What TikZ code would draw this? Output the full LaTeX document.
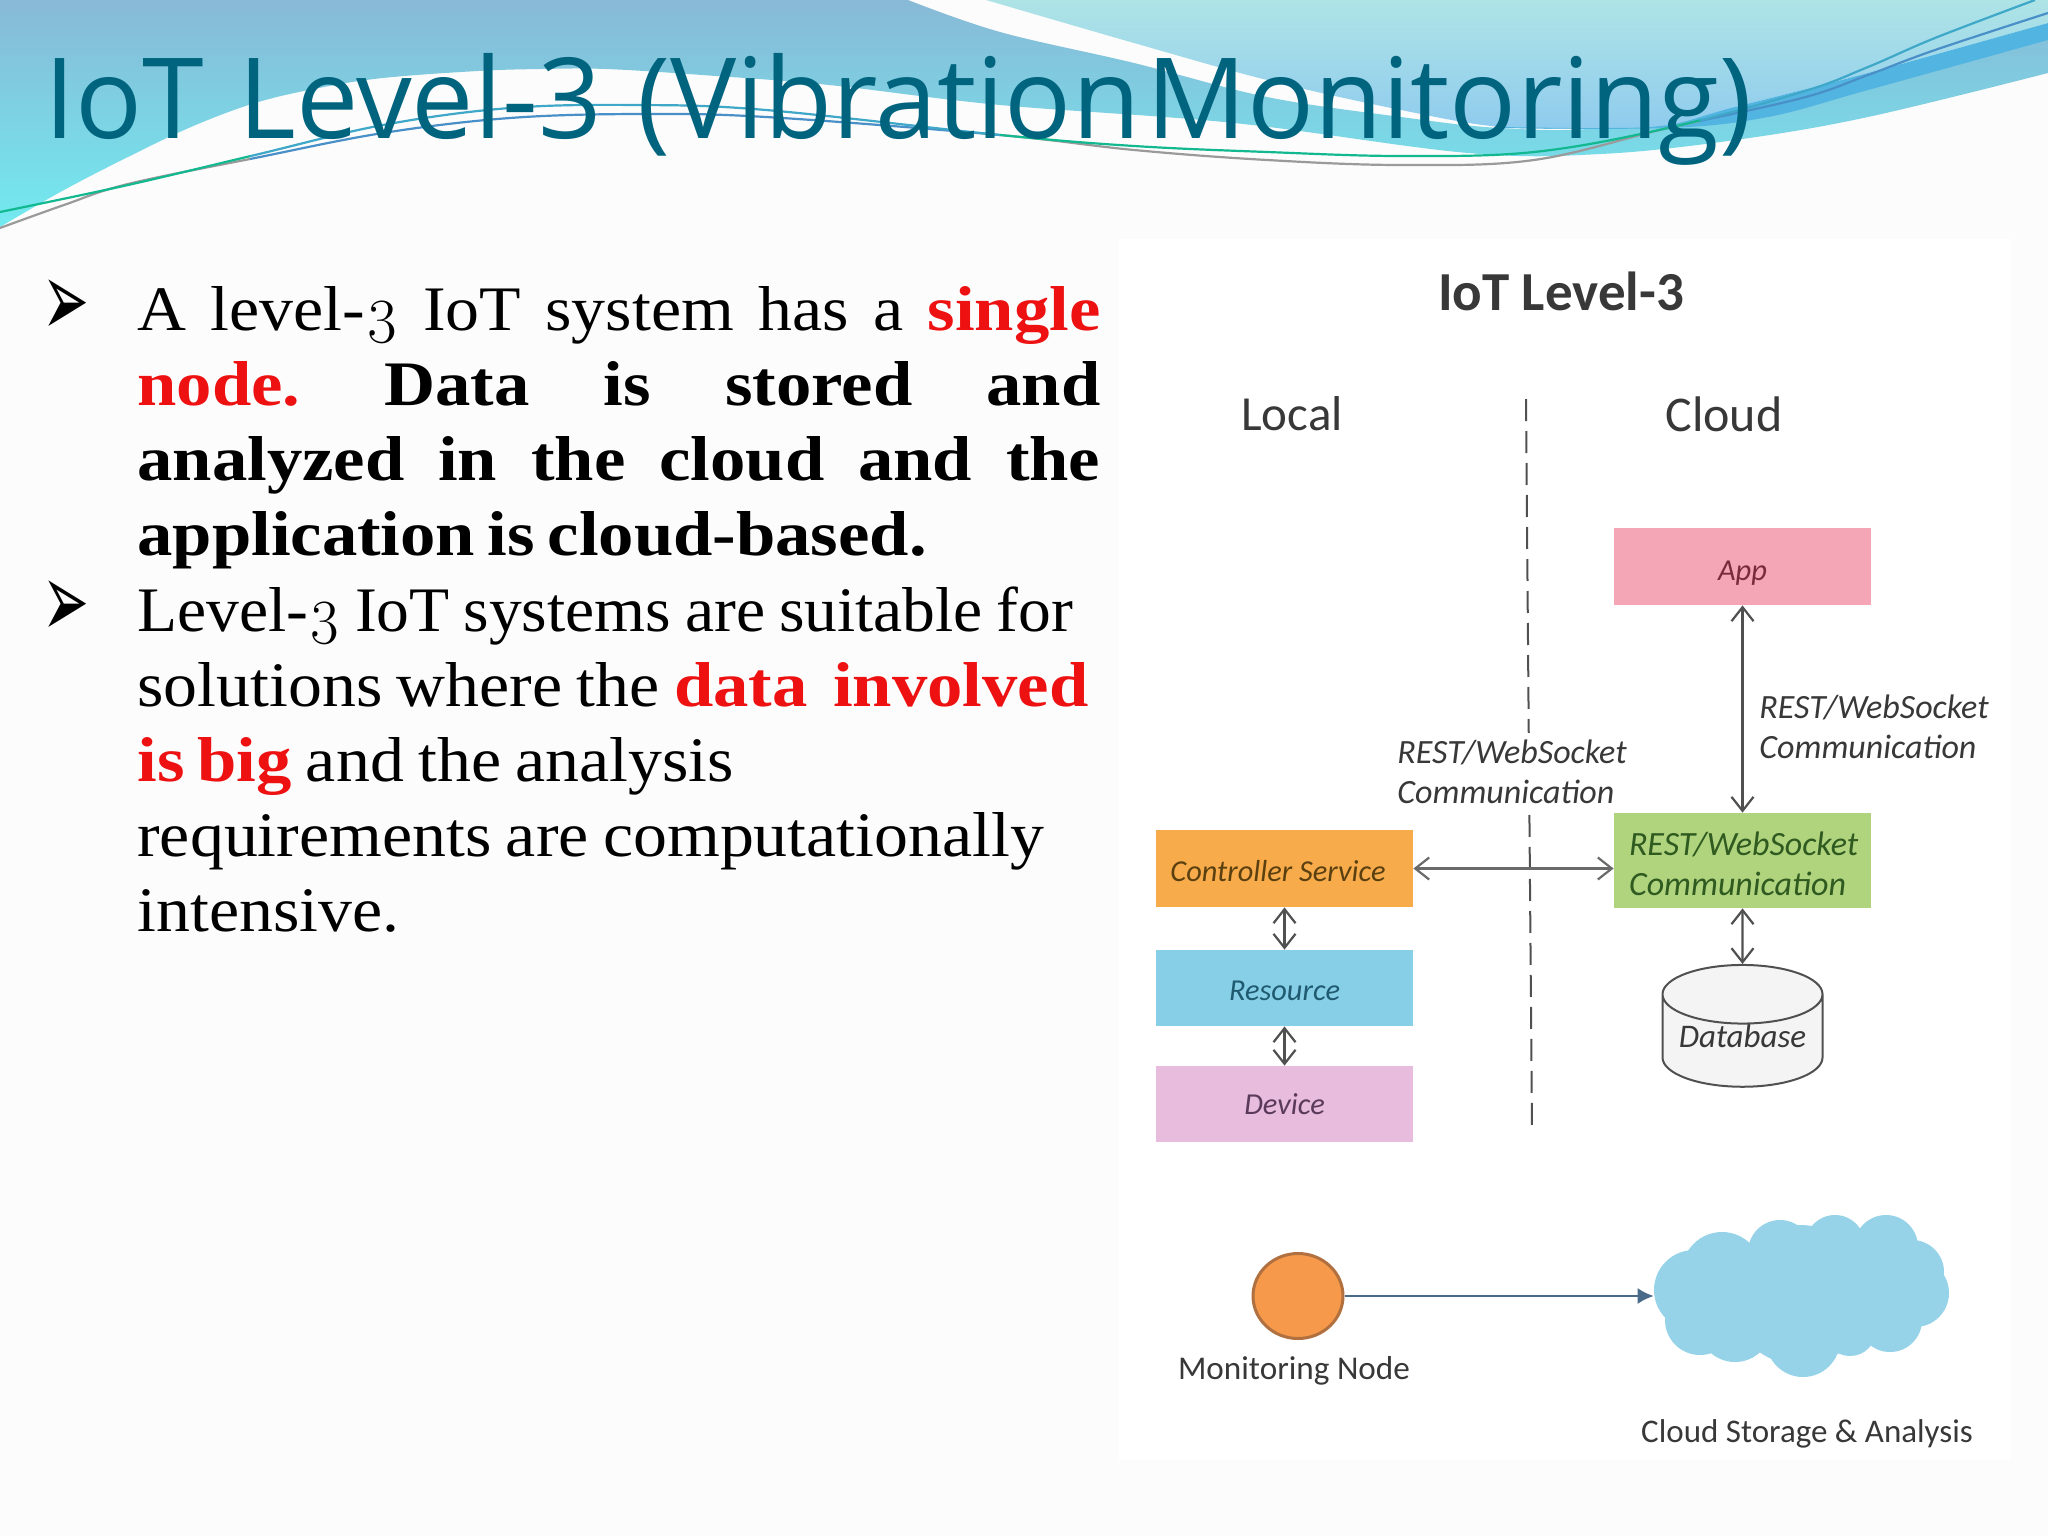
\documentclass[tikz,border=0pt]{standalone}
\usepackage{graphicx}
\usepackage{fontspec}
\usetikzlibrary{arrows.meta,shapes.geometric,calc}
\setmainfont[FakeStretch=1.07,WordSpace=0.85,BoldFeatures={FakeStretch=1.115,WordSpace=0.72}]{Liberation Serif}
\newfontfamily\lmo[Numbers=OldStyle]{Latin Modern Roman}
\newfontfamily\ttl{Open Sans}
\newfontfamily\dgm{Carlito}
\newfontfamily\bul{DejaVu Sans}
\definecolor{titlec}{HTML}{00647F}
\definecolor{redt}{HTML}{EE1111}
\definecolor{lnc}{HTML}{505050}
\definecolor{HeadTop}{HTML}{88B9D6}
\definecolor{HeadBot}{HTML}{72EAF0}
\definecolor{PaleTop}{HTML}{AEE4E6}
\definecolor{PaleBot}{HTML}{8FCBEE}
\definecolor{BandC}{HTML}{52B4E0}
\definecolor{CvGreen}{HTML}{12B890}
\definecolor{CvGrey}{HTML}{9A9A9A}
\definecolor{CvTeal}{HTML}{3FA8C8}
\definecolor{CvBlue}{HTML}{4A90C8}
\definecolor{AppC}{HTML}{F5A6B6}
\definecolor{AppT}{HTML}{7A2A3A}
\definecolor{GreenC}{HTML}{B0D37E}
\definecolor{GreenT}{HTML}{2F5A20}
\definecolor{CtrlC}{HTML}{F7AB4A}
\definecolor{CtrlT}{HTML}{5A4010}
\definecolor{ResC}{HTML}{86CFE6}
\definecolor{ResT}{HTML}{205A70}
\definecolor{DevC}{HTML}{E8BCDC}
\definecolor{DevT}{HTML}{5A3A5A}
\definecolor{DbC}{HTML}{F4F4F4}
\definecolor{NodeC}{HTML}{F7994A}
\definecolor{NodeB}{HTML}{B07040}
\definecolor{CloudC}{HTML}{96D3E8}
\definecolor{ArrC}{HTML}{4A6A8A}
\newcommand{\lin}[1]{\makebox[481.5pt][s]{#1}}
\newcommand{\redb}[1]{\textcolor{redt}{\textbf{#1}}}
\newcommand{\curveA}{plot[smooth,tension=0.6] coordinates {(0,212)(128,185)(255,155)(383,125)(510,108)(638,105)(766,110)(1000,135)(1134,146)(1267,152)(1401,156)(1534,152)(1668,128)(1802,92)(1868,67)(1935,38)(2035,0)}}
\newcommand{\curveB}{plot[smooth,tension=0.6] coordinates {(0,228)(64,205)(128,184)(255,158)(383,133)(510,118)(638,114)(766,117)(1000,135)(1134,150)(1267,160)(1401,165)(1534,160)(1668,128)(1802,98)(1868,75)(1935,50)(2048,13)}}
\tikzset{
  box/.style={rectangle,inner sep=0pt,font=\dgm\itshape\fontsize{15.2}{17}\selectfont,align=center},
  lbl/.style={inner sep=0pt,font=\dgm\itshape\fontsize{17}{20.3}\selectfont,text=black!78,align=left},
  plain/.style={inner sep=0pt,text=black!78,font=\dgm},
  dbl/.style={draw=lnc,line width=1.1pt,{Straight Barb[length=7pt,width=11pt]}-{Straight Barb[length=7pt,width=11pt]}},
  para/.style={inner sep=0pt,anchor=north west,align=left,font=\frenchspacing\fontsize{31.7}{37.5}\selectfont},
  bulletn/.style={inner sep=0pt,font=\bul\fontsize{28}{30}\selectfont}
}
\begin{document}
\begin{tikzpicture}[x=0.5pt,y=-0.5pt]
\useasboundingbox (0,0) rectangle (2048,1536);
\fill[white!99!black] (0,0) rectangle (2048,1536);
% header waves
\shade[top color=HeadTop,bottom color=HeadBot] plot[smooth,tension=0.6] coordinates {(908,0)(1000,32)(1134,63)(1267,97)(1401,117)(1500,128)(1601,128)(1735,107)(1868,80)(2048,30)} -- (2048,73) -- plot[smooth,tension=0.6] coordinates {(2048,73)(1868,117)(1735,140)(1601,154)(1468,153)(1234,123)(1000,105)(829,85)(702,75)(606,69)(542,69)(478,71)(383,78)(319,88)(255,103)(191,127)(128,157)(64,190)(0,227)} -- (0,0) -- cycle;
\shade[top color=PaleTop,bottom color=PaleBot] plot[smooth,tension=0.6] coordinates {(986,0)(1134,43)(1267,80)(1401,110)(1501,127)(1601,128)(1668,125)(1735,107)(1868,73)(2048,23)} -- (2048,0) -- cycle;
\fill[BandC] plot[smooth,tension=0.6] coordinates {(1500,127)(1601,128)(1668,125)(1735,107)(1868,73)(2048,23)} -- (2048,40) -- plot[smooth,tension=0.6] coordinates {(2048,40)(1868,90)(1768,117)(1668,128)(1500,128)} -- cycle;
% curves
\foreach \xa/\xb/\ca/\cb in {0/250/CvGreen/CvGrey,250/1000/CvTeal/CvBlue,1000/1700/CvGreen/CvGrey,1700/2048/CvTeal/CvBlue}{
  \begin{scope}
    \clip (\xa,0) rectangle (\xb,260);
    \draw[\cb,line width=1.1pt] \curveB;
    \draw[\ca,line width=1.1pt] \curveA;
  \end{scope}
}
% title
\node[inner sep=0pt,anchor=base west,text=titlec] (title) at (44,138)
  {\resizebox{854pt}{\height}{\ttl\fontsize{56}{60}\selectfont IoT\hspace{0.05em} Level-3\hspace{0.06em} (Vibration\hspace{0.06em}Monitoring)}};
% body text
\node[bulletn] (b1) at (66,308) {\scalebox{1}[1.9]{➢}};
\node[para] (p1) at (137,286) {\lin{A level-{\lmo 3} IoT system has a \redb{single}}\\
\lin{\redb{node.} \textbf{Data is stored and}}\\
\lin{\textbf{analyzed in the cloud and the}}\\
\textbf{application is cloud-based.}};
\node[bulletn] (b2) at (66,609) {\scalebox{1}[1.9]{➢}};
\node[para] (p2) at (137,586) {\resizebox{468pt}{\height}{Level-{\lmo 3} IoT systems are suitable for}\\
solutions where the \redb{data\ \ involved}\\
\redb{is big} and the analysis\\
requirements are computationally\\
intensive.};
% diagram panel
\fill[white] (1119,239) rectangle (2011,1460);
\coordinate (dashtop) at (1526,399);
\coordinate (dashbot) at (1532,1132);
\draw[lnc,line width=1pt,dash pattern=on 11pt off 5pt] (dashtop) -- (dashbot);
\node[plain,font=\dgm\bfseries\fontsize{27.5}{30}\selectfont] (dtitle) at (1561,291) {IoT Level-3};
\node[plain,font=\dgm\fontsize{24.5}{27}\selectfont] (local) at (1292,414) {Local};
\node[plain,font=\dgm\fontsize{25}{27}\selectfont] (cloudt) at (1724,414) {Cloud};
\node[box,fill=AppC,text=AppT,minimum width=128.5pt,minimum height=38.5pt] (app) at (1742.5,566.5) {\rule{0pt}{16pt}App};
\node[box,fill=GreenC,text=GreenT,minimum width=128.5pt,minimum height=47.5pt,text width=113.5pt,align=left,font=\dgm\itshape\fontsize{17}{20.3}\selectfont] (rest) at (1742.5,860.5) {\rule{0pt}{15pt}REST/WebSocket\\Communication};
\node[box,fill=CtrlC,text=CtrlT,minimum width=128.5pt,minimum height=38.5pt] (ctrl) at (1284.5,868.5) {\rule{0pt}{13pt}Controller Service\hspace{6.5pt}};
\node[box,fill=ResC,text=ResT,minimum width=128.5pt,minimum height=38pt] (res) at (1284.5,988) {\rule{0pt}{13pt}Resource};
\node[box,fill=DevC,text=DevT,minimum width=128.5pt,minimum height=38pt] (dev) at (1284.5,1104) {Device};
\node[cylinder,shape border rotate=90,aspect=0.46,draw=lnc,line width=1pt,fill=DbC,inner sep=0pt,minimum width=80pt,minimum height=53.5pt,font=\dgm\itshape\fontsize{16.5}{18}\selectfont,text=black!78] (db) at (1742.5,1041) {\rule[-5pt]{0pt}{5pt}Database\hspace{4pt}};
\node[lbl,anchor=north west] (lr) at (1759,694) {REST/WebSocket\\Communication};
\node[lbl,anchor=north west,fill=white,inner xsep=0pt,inner ysep=3pt] (ll) at (1397,733) {REST/WebSocket\\Communication};
\draw[dbl] (app.south) -- (rest.north);
\draw[dbl] (rest.south) -- (db.north);
\draw[dbl,draw=lnc!85] (ctrl.east) -- (ctrl.east -| rest.west);
\draw[dbl] (ctrl.south) -- (res.north);
\draw[dbl] (res.south) -- (dev.north);
% lower part
\node[ellipse,draw=NodeB,line width=1.5pt,fill=NodeC,inner sep=0pt,minimum width=45pt,minimum height=42.5pt] (mon) at (1298,1296) {};
\foreach \cx/\cy/\r in {1694/1290/40,1722/1272/40,1780/1252/32,1835/1245/30,1886/1247/32,1912/1272/32,1915/1293/34,1890/1320/32,1850/1330/26,1803/1340/37,1735/1325/37,1700/1320/35,1800/1295/70,1860/1290/50}
  \fill[CloudC] (\cx,\cy) circle[radius=\r*0.5pt];
\node[inner sep=0pt,minimum width=147.5pt,minimum height=81pt] (cloud) at (1801.5,1296) {};
\draw[-{Latex[length=8pt,width=8pt]},draw=ArrC,fill=ArrC,line width=1pt] (mon.east) -- (cloud.west);
\node[plain,font=\dgm\fontsize{16.6}{18}\selectfont] (mont) at (1294,1371) {Monitoring Node};
\node[plain,font=\dgm\fontsize{16.5}{18}\selectfont] (cst) at (1807,1434) {Cloud Storage \& Analysis};
\end{tikzpicture}
\end{document}
